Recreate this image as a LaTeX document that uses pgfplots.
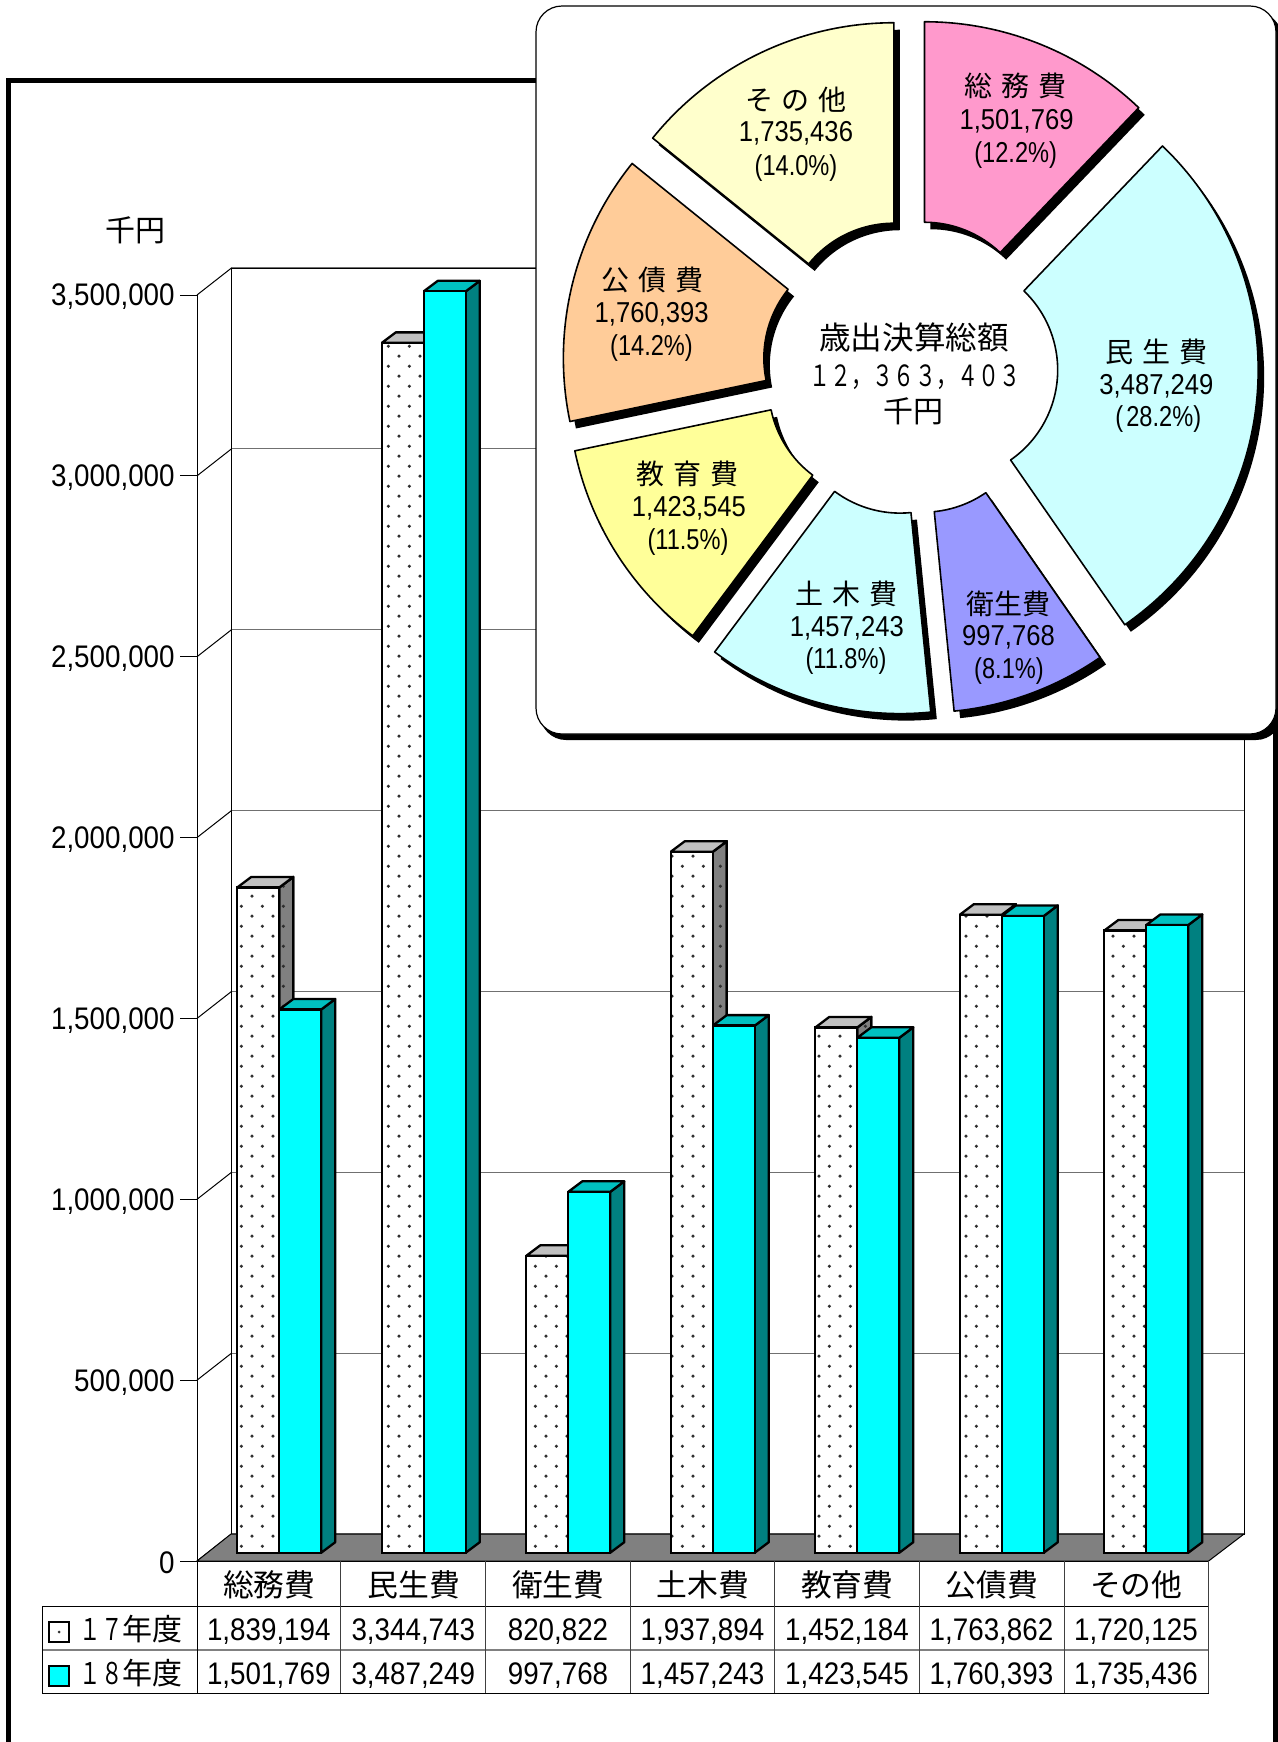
\documentclass[border=0pt]{standalone}
\usepackage{pgfplots}
\pgfplotsset{compat=1.18}
\usepackage{fontspec}
\usetikzlibrary{patterns}
\setmainfont{Liberation Sans}[FakeStretch=0.89]
\newfontfamily\narrowf{Liberation Sans}[FakeStretch=0.82]
\newfontfamily\cjk{Noto Sans CJK JP}
\newfontfamily\cjkd{Noto Sans CJK JP}[FakeStretch=0.72]
\definecolor{cyanF}{HTML}{00FFFF}
\definecolor{cyanS}{HTML}{008080}
\definecolor{cyanT}{HTML}{00C0C0}
\definecolor{grayS}{HTML}{808080}
\definecolor{grayT}{HTML}{C0C0C0}
\definecolor{gridc}{HTML}{707070}
\definecolor{dotc}{HTML}{303030}
\definecolor{wPink}{HTML}{FF99CC}
\definecolor{wIce}{HTML}{CCFFFF}
\definecolor{wBlue}{HTML}{9999FF}
\definecolor{wYel}{HTML}{FFFF99}
\definecolor{wOra}{HTML}{FFCC99}
\definecolor{wCre}{HTML}{FFFFCC}
\pgfdeclarepatternformonly{sparsedots}{\pgfqpoint{0pt}{0pt}}{\pgfqpoint{10.4pt}{10.17pt}}{\pgfqpoint{10.4pt}{10.17pt}}{%
  \pgfpathcircle{\pgfqpoint{1.5pt}{1.5pt}}{0.9pt}%
  \pgfpathcircle{\pgfqpoint{6.7pt}{6.58pt}}{0.9pt}%
  \pgfusepath{fill}}
\newcommand\fsb{\fontsize{15.6}{18}\selectfont}
\newcommand\fss{\fontsize{14.4}{17}\selectfont}
% text helpers: x, y of the centre in pixels
\newcommand\lab[3]{\node[anchor=base,inner sep=0pt] at (#1,#2+11.4) {\fsb #3};}
\newcommand\labs[3]{\node[anchor=base,inner sep=0pt] at (#1,#2+9) {\fss #3};}
\newcommand\labp[3]{\node[anchor=base,inner sep=0pt] at (#1,#2+7.8) {\narrowf\fss #3};}
\newcommand\jlab[3]{\node[anchor=base,inner sep=0pt] at (#1,#2+10.6) {\cjk\fontsize{14}{17}\selectfont #3};}
\newcommand\gp{\kern4.5pt{}}
% the side and top faces of a bar
\newcommand\faces[5]{%
  \pgfmathsetmacro\xl{#1}%
  \pgfmathsetmacro\xr{#1+0.2905}%
  \pgfmathsetmacro\xs{#1+0.2905+0.0968}%
  \pgfmathsetmacro\xt{#1+0.0968}%
  \edef\yt{\the\numexpr#2+29030\relax}%
  \addplot[forget plot,no marks,fill=#3,draw=black,line width=1.15pt,line join=round,#5]
    coordinates {(\xr,0)(\xs,29030)(\xs,\yt)(\xr,#2)(\xr,0)};
  \addplot[forget plot,no marks,fill=#4,draw=black,line width=1.15pt,line join=round]
    coordinates {(\xl,#2)(\xr,#2)(\xs,\yt)(\xt,\yt)(\xl,#2)};
}
% one wedge of the ring: start and end angle clockwise from the top, colour
\newcommand\wedgeit[3]{\pgfplotsextra{%
  \pgfmathsetmacro\md{(#1+#2)/2}%
  \pgfmathsetmacro\ax{910.3+38*sin(\md)}%
  \pgfmathsetmacro\ay{367-38*cos(\md)}%
  \pgfmathsetmacro\sa{90-#1}%
  \pgfmathsetmacro\ea{90-#2}%
  \begin{scope}[shift={(axis cs:\ax,\ay)}]
    \fill[black,xshift=3pt,yshift=-3.5pt] (\sa:155pt) arc[start angle=\sa,end angle=\ea,radius=155pt] -- (\ea:54.75pt) arc[start angle=\ea,end angle=\sa,radius=54.75pt] -- cycle;
    \filldraw[fill=#3,draw=black,line width=0.8pt,line join=round] (\sa:155pt) arc[start angle=\sa,end angle=\ea,radius=155pt] -- (\ea:54.75pt) arc[start angle=\ea,end angle=\sa,radius=54.75pt] -- cycle;
  \end{scope}}}
\begin{document}
\begin{tikzpicture}[x=0.5pt,y=-0.5pt]
\useasboundingbox (0,0) rectangle (1278,1742);
% frame
\draw[black,line width=2.5pt] (8.5,1742)--(8.5,80.5)--(1275.5,80.5)--(1275.5,1742);
% back wall
\begin{axis}[name=wall,scale only axis,at={(115.5pt,-767pt)},anchor=south west,width=506.5pt,height=633pt,
  xmin=0,xmax=1,ymin=0,ymax=3500000,xtick=\empty,ytick={0,500000,1000000,1500000,2000000,2500000,3000000,3500000},
  scaled y ticks=false,
  yticklabels={},major tick length=0pt,ymajorgrids,grid style={gridc,line width=0.6pt},axis line style={black,line width=0.5pt}]
\end{axis}
% left wall and floor
\foreach \k in {0,...,7}{\draw[black,line width=0.5pt] (197,1561-180.86*\k)--(231.5,1534-180.86*\k);}
\filldraw[fill=grayS,draw=black,line width=0.5pt] (197,1561)--(231,1534)--(1244,1534)--(1208.6,1561)--cycle;
% front axis with the value and category ticks
\begin{axis}[scale only axis,at={(98.5pt,-780.5pt)},anchor=south west,width=505.8pt,height=633pt,
  xmin=-0.5,xmax=6.5,ymin=0,ymax=3500000,
  axis y line=left,axis x line=bottom,axis line style={-,black,line width=0.5pt},
  xtick={0,1,2,3,4,5,6},
  xticklabels={総務費,民生費,衛生費,土木費,教育費,公債費,その他},
  x tick label style={anchor=center,yshift=-3.4pt,font=\cjk\fontsize{15.4}{18}\selectfont},
  x tick style={draw=none},
  ytick={0,500000,1000000,1500000,2000000,2500000,3000000,3500000},
  y tick style={black,line width=0.5pt},
  major tick length=8.5pt,tick align=outside,
  y tick label style={font=\fsb,inner sep=0pt,xshift=-2.5pt,yshift=-1pt},
  scaled y ticks=false,
  /pgf/number format/.cd,fixed,1000 sep={,},assume math mode=true,
  ]
\end{axis}
% bars
\begin{axis}[hide axis,scale only axis,at={(103.5pt,-776.35pt)},anchor=south west,width=505.8pt,height=633pt,
  xmin=-0.5,xmax=6.5,ymin=0,ymax=3500000,clip=false]
\faces{-0.2905}{1839194}{grayS}{grayT}{postaction={pattern=sparsedots,pattern color=dotc}}
\faces{0.7095}{3344743}{grayS}{grayT}{postaction={pattern=sparsedots,pattern color=dotc}}
\faces{1.7095}{820822}{grayS}{grayT}{postaction={pattern=sparsedots,pattern color=dotc}}
\faces{2.7095}{1937894}{grayS}{grayT}{postaction={pattern=sparsedots,pattern color=dotc}}
\faces{3.7095}{1452184}{grayS}{grayT}{postaction={pattern=sparsedots,pattern color=dotc}}
\faces{4.7095}{1763862}{grayS}{grayT}{postaction={pattern=sparsedots,pattern color=dotc}}
\faces{5.7095}{1720125}{grayS}{grayT}{postaction={pattern=sparsedots,pattern color=dotc}}
\addplot[ybar,forget plot,bar width=21pt,bar shift=-10.5pt,fill=white,draw=black,line width=1.15pt,
  postaction={pattern=sparsedots,pattern color=dotc}]
  coordinates {(0,1839194)(1,3344743)(2,820822)(3,1937894)(4,1452184)(5,1763862)(6,1720125)};
\faces{0}{1501769}{cyanS}{cyanT}{}
\faces{1}{3487249}{cyanS}{cyanT}{}
\faces{2}{997768}{cyanS}{cyanT}{}
\faces{3}{1457243}{cyanS}{cyanT}{}
\faces{4}{1423545}{cyanS}{cyanT}{}
\faces{5}{1760393}{cyanS}{cyanT}{}
\faces{6}{1735436}{cyanS}{cyanT}{}
\addplot[ybar,forget plot,bar width=21pt,bar shift=10.5pt,fill=cyanF,draw=black,line width=1.15pt]
  coordinates {(0,1501769)(1,3487249)(2,997768)(3,1457243)(4,1423545)(5,1760393)(6,1735436)};
\end{axis}
% data table
\draw[black,line width=0.5pt] (42.4,1606)--(1208.6,1606);
\draw[black,line width=0.5pt] (42.4,1693.3)--(1208.6,1693.3);
\draw[grayS,line width=1pt] (42.4,1650)--(1208.6,1650);
\draw[black,line width=0.5pt] (42.4,1606)--(42.4,1693.3);
\draw[black,line width=0.5pt] (197,1561)--(197,1693.3);
\foreach \x in {340.8,485.5,630.2,774.8,919.4,1064,1208.6}{\draw[black!75,line width=0.5pt] (\x,1561)--(\x,1693.3);}
\filldraw[fill=white,draw=black,line width=1pt] (49,1622)rectangle(69.4,1642);
\fill[dotc] (59.2,1632) circle[radius=0.75pt];
\filldraw[fill=cyanF,draw=black,line width=1pt] (49,1666)rectangle(69.4,1686);
\node[anchor=base,inner sep=0pt] at (131,1640) {\fontsize{15}{18}\selectfont{\cjkd １７}{\cjk 年度}};
\node[anchor=base,inner sep=0pt] at (131,1684) {\fontsize{15}{18}\selectfont{\cjkd １８}{\cjk 年度}};
\lab{268.8}{1629}{1,839,194}\lab{413.3}{1629}{3,344,743}\lab{558}{1629}{820,822}\lab{702.5}{1629}{1,937,894}\lab{847}{1629}{1,452,184}\lab{991.5}{1629}{1,763,862}\lab{1136}{1629}{1,720,125}
\lab{268.8}{1673}{1,501,769}\lab{413.3}{1673}{3,487,249}\lab{558}{1673}{997,768}\lab{702.5}{1673}{1,457,243}\lab{847}{1673}{1,423,545}\lab{991.5}{1673}{1,760,393}\lab{1136}{1673}{1,735,436}
% unit
\node[anchor=base,inner sep=0pt] at (135,241) {\cjk\fontsize{15}{18}\selectfont 千円};
% inset box
\fill[black,rounded corners=13pt] (540,12) rectangle (1282,740);
\filldraw[fill=white,draw=black,line width=0.6pt,rounded corners=13pt] (536,6) rectangle (1276,734);
% ring
\begin{axis}[hide axis,scale only axis,at={(0pt,-871pt)},anchor=south west,width=639pt,height=871pt,
  xmin=0,xmax=1278,ymin=0,ymax=1742,y dir=reverse,clip=false]
\wedgeit{0}{43.73}{wPink}
\wedgeit{43.73}{145.27}{wIce}
\wedgeit{145.27}{174.32}{wBlue}
\wedgeit{174.32}{216.75}{wIce}
\wedgeit{216.75}{258.2}{wYel}
\wedgeit{258.2}{308.9}{wOra}
\wedgeit{308.9}{360}{wCre}
\end{axis}
% ring labels
\jlab{1015.7}{86}{総\gp 務\gp 費}\labs{1016.6}{120.7}{1,501,769}\labp{1015.7}{155}{(12.2\%)}
\jlab{796}{100}{そ\gp の\gp 他}\labs{796}{132}{1,735,436}\labp{796}{168}{(14.0\%)}
\jlab{652.6}{280}{公\gp 債\gp 費}\labs{651.7}{313}{1,760,393}\labp{651.5}{347.7}{(14.2\%)}
\jlab{1156.4}{351.7}{民\gp 生\gp 費}\labs{1156.4}{385.7}{3,487,249}\labp{1158.3}{419}{(\kern1.5pt{}28.2\%)}
\jlab{687.4}{474}{教\gp 育\gp 費}\labs{689}{507.3}{1,423,545}\labp{688}{541.7}{(11.5\%)}
\jlab{846.3}{594}{土\gp 木\gp 費}\labs{846.8}{627.3}{1,457,243}\labp{846}{661}{(11.8\%)}
\jlab{1008.5}{604.3}{衛生費}\labs{1008.5}{636.7}{997,768}\labp{1009}{671}{(8.1\%)}
% ring centre
\node[anchor=base,inner sep=0pt] at (914,349) {\cjk\fontsize{15.8}{18}\selectfont 歳出決算総額};
\node[anchor=base,inner sep=0pt] at (915,386) {\cjkd\fontsize{14.6}{18}\selectfont １２，３６３，４０３};
\node[anchor=base,inner sep=0pt] at (913,422) {\cjk\fontsize{15}{18}\selectfont 千円};
\end{tikzpicture}
\end{document}
